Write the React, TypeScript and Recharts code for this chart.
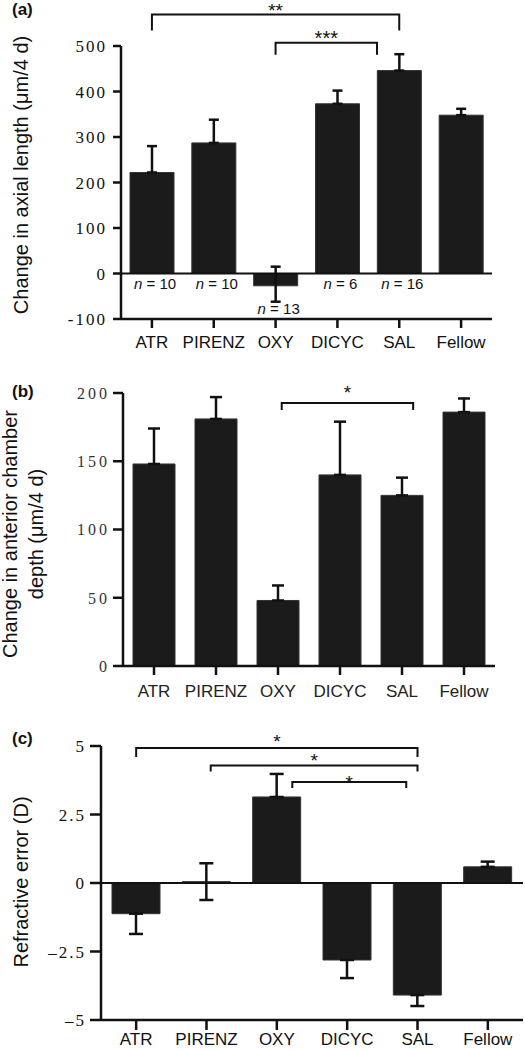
import React from "react";
import { BarChart, Bar, XAxis, YAxis, ErrorBar, ReferenceLine, LabelList } from "recharts";

const SANS = "'Liberation Sans', Arial, Helvetica, sans-serif";
const SERIF = "'Liberation Serif', 'Times New Roman', serif";
const INK = "#111";
const BAR = "#1b1b1b";

const groups = ["ATR", "PIRENZ", "OXY", "DICYC", "SAL", "Fellow"];

// (a) change in axial length (µm/4 d), error = [down, up]
const axialMean = [222, 287, -27, 373, 446, 348];
const axialErr = [[0, 58], [0, 51], [35, 42], [0, 29], [0, 36], [0, 14]];
const axialN = [10, 10, 13, 6, 16, null];
const axialTicks = [-100, 0, 100, 200, 300, 400, 500];

// (b) change in anterior chamber depth (µm/4 d)
const acdMean = [148, 181, 48, 140, 125, 186];
const acdErr = [[0, 26], [0, 16], [0, 11], [0, 39], [0, 13], [0, 10]];
const acdTicks = [0, 50, 100, 150, 200];

// (c) refractive error (D)
const refMean = [-1.12, 0.05, 3.14, -2.81, -4.09, 0.59];
const refErr = [[0.74, 0], [0.67, 0.67], [0, 0.84], [0.66, 0], [0.4, 0], [0, 0.19]];
const refTicks = [-5, -2.5, 0, 2.5, 5];

// significance brackets: from/to are group positions (0 = ATR, fractions between groups), y in data units
const axialSig = [
  { from: 0, to: 4, y: 569, label: "**" },
  { from: 2, to: 3.64, y: 507, label: "***" },
];
const acdSig = [{ from: 2.06, to: 4.18, y: 192.7, label: "*" }];
const refSig = [
  { from: 0, to: 4, y: 4.93, label: "*" },
  { from: 1.06, to: 4, y: 4.29, label: "*" },
  { from: 2.22, to: 3.84, y: 3.69, label: "*" },
];

// bracket styling (px): tick drop and star height above the line
const axialSigStyle = [{ drop: 16, gap: 9, size: 19 }, { drop: 12, gap: 9, size: 20 }];
const acdSigStyle = [{ drop: 7, gap: 15, size: 19 }];
const refSigStyle = [
  { drop: 9, gap: 11, size: 19 },
  { drop: 6, gap: 9, size: 19 },
  { drop: 6, gap: 4, size: 19 },
];

const axialData = groups.map((name, i) => ({ name, mean: axialMean[i], err: axialErr[i], n: axialN[i] }));
const acdData = groups.map((name, i) => ({ name, mean: acdMean[i], err: acdErr[i] }));
const refData = groups.map((name, i) => ({ name, mean: refMean[i], err: refErr[i] }));

type Sig = { from: number; to: number; y: number; label: string };
type SigStyle = { drop: number; gap: number; size: number };

// bracket drawn on a category segment; fractional group positions are offset by the band width
const bracket = (s: Sig, st: SigStyle) => (p: any) => {
  const a = Math.round(s.from);
  const b = Math.round(s.to);
  const band = (p.x2 - p.x1) / (b - a);
  const x1 = p.x1 + (s.from - a) * band;
  const x2 = p.x2 + (s.to - b) * band;
  const y = p.y1;
  return (
    <g>
      <path d={`M${x1},${y + st.drop}V${y}H${x2}V${y + st.drop}`} fill="none" stroke={INK} strokeWidth={2} />
      <text x={(x1 + x2) / 2} y={y - st.gap + st.size * 0.58} textAnchor="middle" fontSize={st.size} fontFamily={SANS} fill={INK}>
        {s.label}
      </text>
    </g>
  );
};

const sigLines = (sigs: Sig[], styles: SigStyle[]) =>
  sigs.map((s, i) => (
    <ReferenceLine
      key={`sig${i}`}
      segment={[
        { x: groups[Math.round(s.from)], y: s.y },
        { x: groups[Math.round(s.to)], y: s.y },
      ]}
      ifOverflow="visible"
      shape={bracket(s, styles[i])}
    />
  ));

const yTick = (size: number, spacing: number, fill: string, minus: string) => (p: any) => {
  const v = p.payload.value;
  const s = v < 0 ? minus + String(Math.abs(v)) : String(v);
  return (
    <text x={p.x + spacing} y={p.y} dy="0.36em" textAnchor="end" fontSize={size} letterSpacing={spacing} fill={fill} fontFamily={SERIF}>
      {s}
    </text>
  );
};

const AxisTitle = ({ lines, xs, cy }: { lines: string[]; xs: number[]; cy: number }) => (
  <g>
    {lines.map((t, i) => (
      <text key={i} x={xs[i]} y={cy} transform={`rotate(-90, ${xs[i]}, ${cy})`} textAnchor="middle" fontSize={20} fontFamily={SANS} fill={INK}>
        {t}
      </text>
    ))}
  </g>
);

const NLabel = (p: any) => {
  const { value, index } = p;
  if (value == null) return null;
  const vb = p.viewBox ?? {};
  const bx = p.x ?? vb.x;
  const by = p.y ?? vb.y;
  const bw = p.width ?? vb.width;
  const bh = p.height ?? vb.height;
  const bottom = Math.max(by, by + bh);
  const scale = Math.abs(bh / axialMean[index]);
  const down = axialErr[index][0] * scale;
  const gap = axialMean[index] < 0 ? 12 : 15;
  return (
    <text x={bx + bw / 2 + 3} y={bottom + down + gap} textAnchor="middle" fontSize={15} fontFamily={SANS} fill={INK}>
      <tspan fontStyle="italic">n</tspan> = {value}
    </text>
  );
};

const axisLine = { stroke: INK, strokeWidth: 2.5 };
const xTick = { fontSize: 17, fill: INK, fontFamily: SANS };

const panelLabel = (txt: string, top: number) => (
  <div style={{ position: "absolute", left: 12, top, fontFamily: SANS, fontWeight: 700, fontSize: 17, lineHeight: "17px", color: INK, zIndex: 2 }}>
    {txt}
  </div>
);

export default function App() {
  return (
    <div style={{ position: "relative", width: 525, height: 1050, background: "#fff", overflow: "hidden" }}>
      <style>{"body{margin:0}"}</style>
      {panelLabel("(a)", 1)}
      {panelLabel("(b)", 383)}
      {panelLabel("(c)", 730)}

      <div style={{ position: "absolute", left: 0, top: 0 }}>
        <BarChart width={525} height={370} data={axialData} margin={{ top: 46, right: 33, bottom: 0, left: 0 }} barSize={44}>
          <XAxis dataKey="name" height={51} tickSize={9} tickMargin={8} interval={0} axisLine={axisLine} tickLine={axisLine} tick={xTick} />
          <YAxis
            domain={[-100, 500]}
            ticks={axialTicks}
            interval={0}
            width={121}
            tickSize={8}
            tickMargin={8}
            axisLine={axisLine}
            tickLine={axisLine}
            tick={yTick(17, 2, INK, "-")}
            label={<AxisTitle lines={["Change in axial length (μm/4 d)"]} xs={[28]} cy={175} />}
          />
          <ReferenceLine y={0} stroke={INK} strokeWidth={2} />
          <Bar dataKey="mean" fill={BAR} stroke="#333" strokeWidth={1} isAnimationActive={false}>
            <ErrorBar dataKey="err" width={5} stroke={INK} strokeWidth={2.5} direction="y" />
            <LabelList dataKey="n" content={NLabel} />
          </Bar>
          {sigLines(axialSig, axialSigStyle)}
        </BarChart>
      </div>

      <div style={{ position: "absolute", left: 0, top: 370 }}>
        <BarChart width={525} height={330} data={acdData} margin={{ top: 23, right: 30, bottom: 0, left: 0 }} barSize={42}>
          <XAxis dataKey="name" height={34} tickSize={9} tickMargin={10} interval={0} axisLine={axisLine} tickLine={axisLine} tick={{ ...xTick, fill: "#222" }} />
          <YAxis
            domain={[0, 200]}
            ticks={acdTicks}
            interval={0}
            width={123}
            tickSize={10}
            tickMargin={6}
            axisLine={axisLine}
            tickLine={axisLine}
            tick={yTick(16, 3, "#333", "-")}
            label={<AxisTitle lines={["Change in anterior chamber", "depth (μm/4 d)"]} xs={[17, 43]} cy={164} />}
          />
          <Bar dataKey="mean" fill={BAR} stroke="#333" strokeWidth={1} isAnimationActive={false}>
            <ErrorBar dataKey="err" width={6} stroke={INK} strokeWidth={2.5} direction="y" />
          </Bar>
          {sigLines(acdSig, acdSigStyle)}
        </BarChart>
      </div>

      <div style={{ position: "absolute", left: 0, top: 700 }}>
        <BarChart width={525} height={350} data={refData} margin={{ top: 46, right: 2, bottom: 0, left: 0 }} barSize={48}>
          <XAxis dataKey="name" height={30} tickSize={10} tickMargin={3} interval={0} axisLine={axisLine} tickLine={axisLine} tick={xTick} />
          <YAxis
            domain={[-5, 5]}
            ticks={refTicks}
            interval={0}
            width={101}
            tickSize={11}
            tickMargin={6}
            axisLine={axisLine}
            tickLine={axisLine}
            tick={yTick(17, 2, INK, "–")}
            label={<AxisTitle lines={["Refractive error (D)"]} xs={[28]} cy={182} />}
          />
          <ReferenceLine y={0} stroke={INK} strokeWidth={2} />
          <Bar dataKey="mean" fill={BAR} stroke="#333" strokeWidth={1} isAnimationActive={false}>
            <ErrorBar dataKey="err" width={7} stroke={INK} strokeWidth={2.5} direction="y" />
          </Bar>
          {sigLines(refSig, refSigStyle)}
        </BarChart>
      </div>
    </div>
  );
}
